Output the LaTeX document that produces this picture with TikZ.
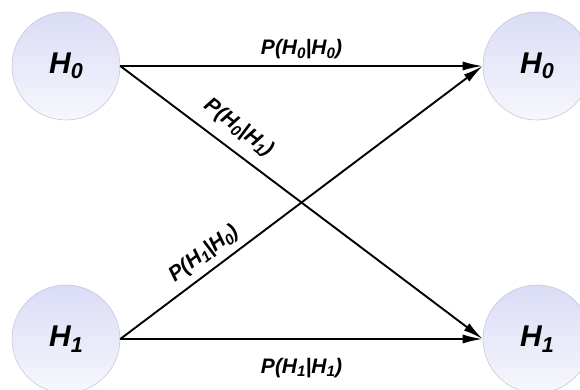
\documentclass[tikz,border=0pt]{standalone}
\usepackage{fontspec}
\setmainfont{Liberation Sans}
\usetikzlibrary{arrows.meta}
\definecolor{circtop}{RGB}{218,220,246}
\definecolor{circbot}{RGB}{247,247,253}
\definecolor{circedge}{RGB}{200,200,215}
\newcommand\sbx[1]{\raisebox{-0.18em}{\scalebox{0.72}{#1}}}
\tikzset{
  hyp/.style={circle, minimum size=108pt, inner sep=0pt, draw=circedge, line width=0.6pt,
    top color=circtop, bottom color=circbot, font=\fontsize{30}{32}\selectfont\bfseries\itshape},
  conn/.style={line width=1.9pt, -{Latex[length=20pt,width=9pt]}},
  lab/.style={font=\fontsize{21}{23}\selectfont\bfseries\itshape, inner sep=1pt}
}
\begin{document}
\begin{tikzpicture}[x=1pt,y=1pt]
\useasboundingbox (0,0) rectangle (580,389);
\clip (0,0) rectangle (580,389);
\fill[white] (0,0) rectangle (580,389);
\node[hyp] (h0l) at (66,323) {H\sbx{0}};
\node[hyp] (h1l) at (66,50) {H\sbx{1}};
\node[hyp] (h0r) at (537,323) {H\sbx{0}};
\node[hyp] (h1r) at (537,50) {H\sbx{1}};
\draw[conn] (h0l.east) -- node[lab, above=5pt] {P(H\sbx{0}|H\sbx{0})} (h0r.west);
\draw[conn] (h1l.east) -- node[lab, below=17pt] {P(H\sbx{1}|H\sbx{1})} (h1r.west);
\draw[conn] (h0l.east) -- node[lab, pos=0.29, sloped, above=10pt] {P(H\sbx{0}|H\sbx{1})} (h1r.west);
\draw[conn] (h1l.east) -- node[lab, pos=0.26, sloped, above=6pt] {P(H\sbx{1}|H\sbx{0})} (h0r.west);
\end{tikzpicture}
\end{document}
